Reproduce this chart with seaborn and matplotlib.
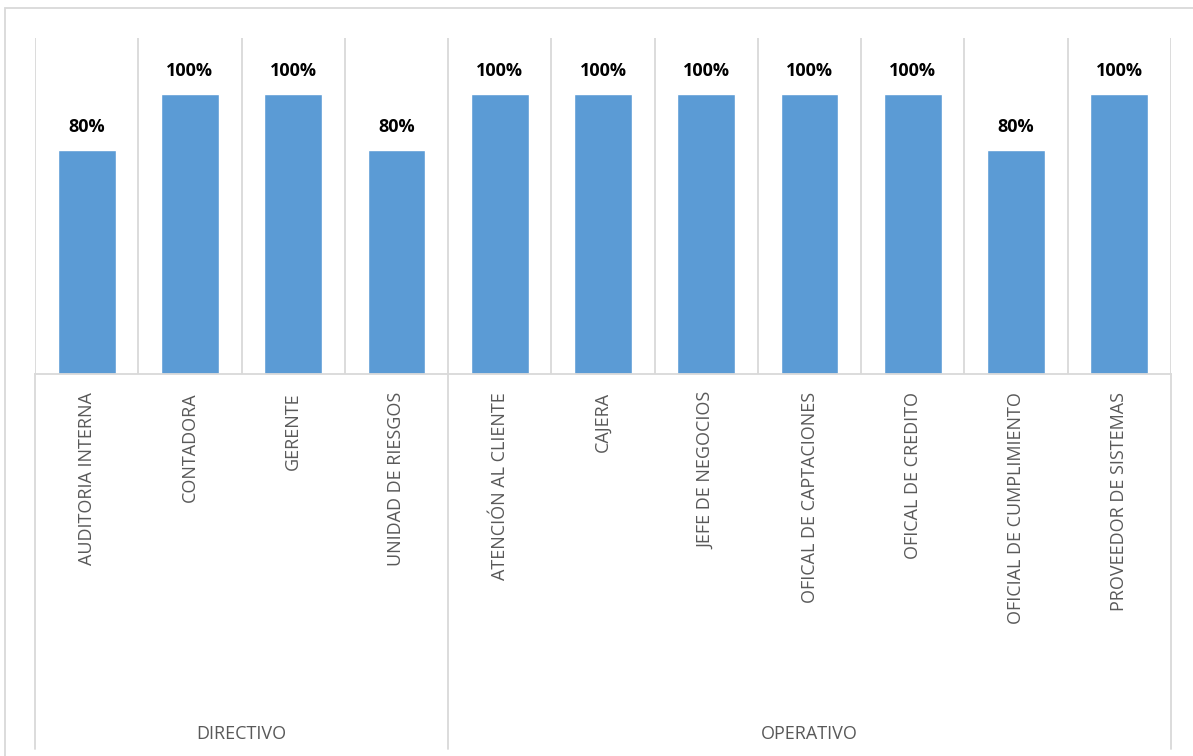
import matplotlib.pyplot as plt
import matplotlib.transforms as mtransforms
from matplotlib.patches import Rectangle
import numpy as np
import pandas as pd
import seaborn as sns

roles = ["AUDITORIA INTERNA", "CONTADORA", "GERENTE", "UNIDAD DE RIESGOS",
         "ATENCIÓN AL CLIENTE", "CAJERA", "JEFE DE NEGOCIOS",
         "OFICAL DE CAPTACIONES", "OFICAL DE CREDITO",
         "OFICIAL DE CUMPLIMIENTO", "PROVEEDOR DE SISTEMAS"]
values = [80, 100, 100, 80, 100, 100, 100, 100, 100, 80, 100]
groups = ["DIRECTIVO"] * 4 + ["OPERATIVO"] * 7

sns.set_theme(style="white")
plt.rcParams["font.family"] = ["Open Sans", "DejaVu Sans"]

data = pd.DataFrame({"Rol": roles, "Valor": values, "Grupo": groups})

W, H = 1193, 756
fig = plt.figure(figsize=(W / 100, H / 100), dpi=100)
ax = fig.add_axes([35 / W, 1 - 374 / H, (1171 - 35) / W, (374 - 38) / H])

sns.barplot(data=data, x="Rol", y="Valor", color="#5B9BD5", saturation=1,
            width=0.56, ax=ax)

ax.set_xlim(-0.5, len(roles) - 0.5)
ax.set_ylim(0, 120)
ax.set_yticks([])
ax.set_xlabel("")
ax.set_ylabel("")

grid = "#D9D9D9"
for s in ["top", "left", "right"]:
    ax.spines[s].set_visible(False)
ax.spines["bottom"].set_color(grid)
ax.spines["bottom"].set_linewidth(1.3)

# vertical separators between categories
ax.set_xticks(np.arange(-0.5, len(roles)), minor=True)
ax.grid(which="minor", axis="x", color=grid, linewidth=1.3)
ax.tick_params(axis="x", which="both", length=0)
ax.tick_params(axis="x", which="major", pad=13)
ax.set_xticks(range(len(roles)))
ax.set_xticklabels(roles, rotation=90, fontsize=13, color="#595959")

ax.bar_label(ax.containers[0], labels=[f"{v}%" for v in values],
             padding=10, fontsize=13, fontweight="bold", color="black")

# group separators and labels under the axis
trans = mtransforms.blended_transform_factory(ax.transData, ax.transAxes)
for xb in [-0.5, 3.5, len(roles) - 0.5]:
    ax.plot([xb, xb], [0, -1.115], color=grid, linewidth=1.3,
            transform=trans, clip_on=False)
for name, x0, x1 in [("DIRECTIVO", -0.5, 3.5), ("OPERATIVO", 3.5, len(roles) - 0.5)]:
    ax.text((x0 + x1) / 2, -1.07, name, transform=trans, ha="center",
            va="center", fontsize=13, color="#595959")

# chart border
fig.add_artist(Rectangle((5 / W, -0.1), 1.2, 1.1 - 8 / H,
                         transform=fig.transFigure, fill=False,
                         edgecolor=grid, linewidth=1.3))

plt.savefig("out.png", dpi=100)
